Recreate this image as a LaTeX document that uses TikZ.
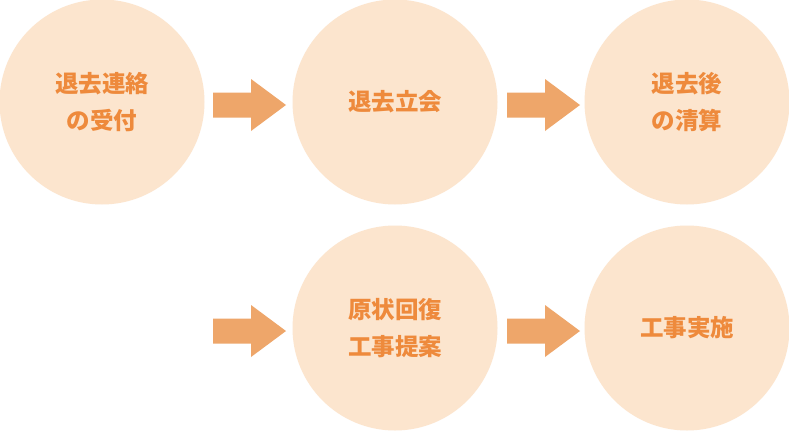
\documentclass[tikz,border=0pt]{standalone}
\usepackage{fontspec}
\newfontfamily\cjk{Noto Sans CJK JP}
\definecolor{circfill}{HTML}{FCE5CE}
\definecolor{txtorange}{HTML}{EE8A3C}
\definecolor{arrorange}{HTML}{EEA66A}
\begin{document}
\begin{tikzpicture}[x=1pt,y=-1pt,
  stepcircle/.style={circle,fill=circfill,minimum size=205pt,inner sep=0pt,
    font=\cjk\bfseries\fontsize{23.5}{37}\selectfont,text=txtorange,align=center},
  flowarrow/.style={fill=arrorange,draw=none}]
\fill[white] (0,0) rectangle (789,431);
\useasboundingbox (0,0) rectangle (789,431);
\node[stepcircle] (c1) at (102,102) {退去連絡\\の受付};
\node[stepcircle] (c2) at (395,102) {退去立会};
\node[stepcircle] (c3) at (687,102) {退去後\\の清算};
\node[stepcircle] (c4) at (395,328) {原状回復\\工事提案};
\node[stepcircle] (c5) at (687,328) {工事実施};
\newcommand{\flowarr}[2]{%
  \fill[arrorange] (#1,#2-12.5) -- (#1+38,#2-12.5) -- (#1+38,#2-26) -- (#1+73,#2) -- (#1+38,#2+26) -- (#1+38,#2+12.5) -- (#1,#2+12.5) -- cycle;}
\flowarr{213}{105}
\flowarr{507}{105}
\flowarr{213}{331}
\flowarr{507}{331}
\end{tikzpicture}
\end{document}
